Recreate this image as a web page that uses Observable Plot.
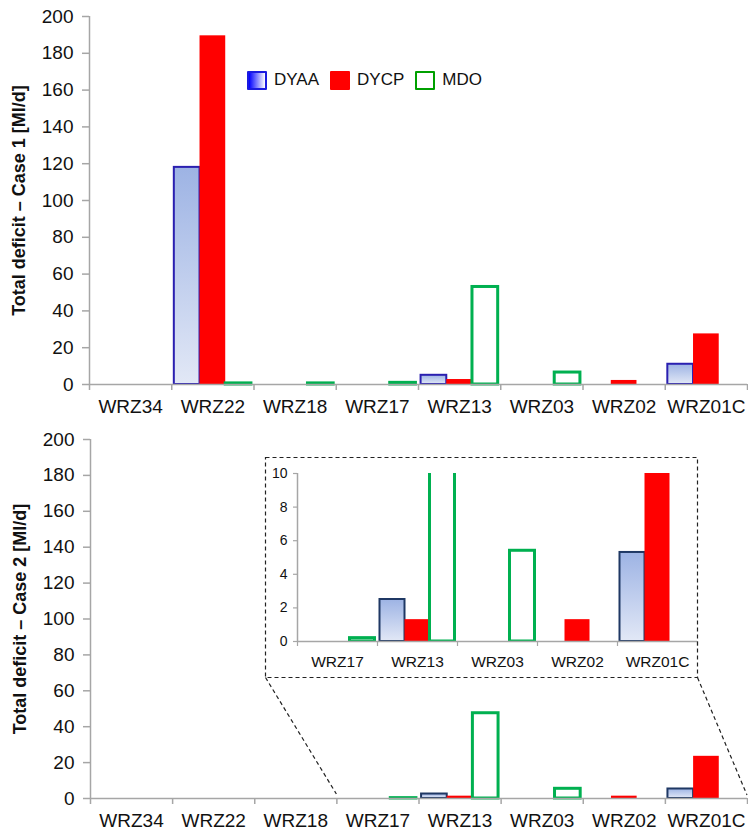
<!DOCTYPE html>
<html><head><meta charset="utf-8">
<script src="https://cdn.jsdelivr.net/npm/d3@7"></script>
<script src="https://cdn.jsdelivr.net/npm/@observablehq/plot@0.6"></script>
<style>
body{margin:0;background:#fff;font-family:"Liberation Sans",Arial,Helvetica,sans-serif;}
#wrap{position:relative;width:748px;height:834px;overflow:hidden;background:#fff}
.abs{position:absolute}
svg.mainplot text{font-size:19px !important}
svg.mainplot [aria-label="y-axis label"] text, svg.mainplot [aria-label="y-axis label"]{font-weight:bold !important;font-size:18px !important}
svg.insetplot text{font-size:14px !important}
svg.insetplot [aria-label="x-axis tick label"] text{font-size:15.5px !important}
#legend{position:absolute;left:247px;top:70px;display:flex;align-items:center;font-size:17px;color:#111}
#legend .sw{width:16px;height:15px;border:2px solid;border-radius:1px;margin-right:7px}
#legend .it{display:flex;align-items:center;margin-right:11px}
</style></head><body><div id="wrap"></div>
<script>
// ---- data ----
const categories = ["WRZ34","WRZ22","WRZ18","WRZ17","WRZ13","WRZ03","WRZ02","WRZ01C"];
const series = ["DYAA","DYCP","MDO"];
// Case 1
const case1DYAA = [0, 118, 0, 0, 5, 0, 0, 11];
const case1DYCP = [0, 189.5, 0, 0, 2.7, 0, 2.2, 27.5];
const case1MDO  = [0, 0.6, 0.6, 0.9, 53, 6.5, 0, 0];
// Case 2
const case2DYAA = [0, 0, 0, 0, 2.5, 0, 0, 5.3];
const case2DYCP = [0, 0, 0, 0, 1.3, 0, 1.3, 23.5];
const case2MDO  = [0, 0, 0, 0.2, 47.5, 5.4, 0, 0];
const yTicks = [0, 20, 40, 60, 80, 100, 120, 140, 160, 180, 200];
const insetCategories = ["WRZ17","WRZ13","WRZ03","WRZ02","WRZ01C"];
const insetYTicks = [0, 2, 4, 6, 8, 10];
const yLabel1 = "Total deficit \u2013 Case 1 [Ml/d]";
const yLabel2 = "Total deficit \u2013 Case 2 [Ml/d]";

// ---- helpers ----
const FONT = '"Liberation Sans", Arial, Helvetica, sans-serif';
const AXIS = "#a6a6a6";
const PAD = 0.1;
const STEP = 1 / (series.length + 2 * PAD);

function rows(cats, valuesBySeries) {
  const out = [];
  cats.forEach((c, i) => series.forEach((s, j) => {
    const v = valuesBySeries[j][i];
    if (v > 0) out.push({cat: c, i, s, j, v});
  }));
  return out;
}
const bx1 = d => d.i + STEP * (PAD + d.j);
const bx2 = d => d.i + STEP * (PAD + d.j + 1);

function gradientMark(id) {
  return () => {
    const defs = d3.create("svg:defs");
    const g = defs.append("linearGradient").attr("id", id)
      .attr("x1", 0).attr("y1", 0).attr("x2", 0).attr("y2", 1);
    g.append("stop").attr("offset", "0%").attr("stop-color", "#9db3e4");
    g.append("stop").attr("offset", "100%").attr("stop-color", "#e2e8f6");
    return defs.node();
  };
}

function barMarks(data, gradId, dyaaStroke, clip) {
  return [
    Plot.rect(data.filter(d => d.s === "DYAA"), {x1: bx1, x2: bx2, y1: 0, y2: "v", fill: `url(#${gradId})`, stroke: dyaaStroke, strokeWidth: 2, clip}),
    Plot.rect(data.filter(d => d.s === "DYCP"), {x1: bx1, x2: bx2, y1: 0, y2: "v", fill: "#ff0000", clip}),
    Plot.rect(data.filter(d => d.s === "MDO"), {x1: bx1, x2: bx2, y1: 0, y2: "v", fill: "white", stroke: "#00b050", strokeWidth: 3, clip})
  ];
}

function mainChart(values, label, gradId, dyaaStroke, opts) {
  const data = rows(categories, values);
  return Plot.plot({
    width: 748, height: opts.height, className: "mainplot",
    marginLeft: opts.marginLeft, marginRight: 1, marginTop: opts.marginTop, marginBottom: 36,
    style: {fontFamily: FONT, fontSize: "19px", color: "#111", background: "transparent", overflow: "visible"},
    x: {domain: [0, categories.length]},
    y: {domain: [0, 200]},
    marks: [
      gradientMark(gradId),
      ...barMarks(data, gradId, dyaaStroke, false),
      Plot.ruleX([0], {stroke: AXIS, strokeWidth: 1.5}),
      Plot.ruleY([0], {stroke: AXIS, strokeWidth: 1.5}),
      Plot.axisY({ticks: yTicks, tickSize: 7, tickPadding: 9, stroke: AXIS, strokeWidth: 1.5, fill: "#111",
        label, labelAnchor: "center", labelOffset: 77, labelArrow: false}),
      Plot.axisX({ticks: d3.range(categories.length + 1), tickFormat: () => "", tickSize: 6, stroke: AXIS, strokeWidth: 1.5, label: null}),
      Plot.axisX({ticks: categories.map((_, i) => i + 0.5), tickFormat: t => categories[Math.floor(t)], tickSize: 0, tickPadding: 15, fill: "#111", label: null})
    ]
  });
}

const wrap = document.getElementById("wrap");

// top chart
const topChart = mainChart([case1DYAA, case1DYCP, case1MDO], yLabel1, "gradA", "#2a1fb0",
  {height: 420, marginLeft: 89, marginTop: 16});
const topDiv = document.createElement("div");
topDiv.className = "abs"; topDiv.style.left = "0px"; topDiv.style.top = "0px";
topDiv.appendChild(topChart); wrap.appendChild(topDiv);

// bottom chart
const BOTTOM_TOP = 420;
const bottomChart = mainChart([case2DYAA, case2DYCP, case2MDO], yLabel2, "gradB", "#1f3864",
  {height: 414, marginLeft: 90, marginTop: 19});
const botDiv = document.createElement("div");
botDiv.className = "abs"; botDiv.style.left = "0px"; botDiv.style.top = BOTTOM_TOP + "px";
botDiv.appendChild(bottomChart); wrap.appendChild(botDiv);

// inset chart (zoom of case 2, WRZ17..WRZ01C)
const first = categories.indexOf(insetCategories[0]);
const insetVals = [case2DYAA, case2DYCP, case2MDO].map(a => a.slice(first));
const INSET = {left: 265, top: 457, width: 433, height: 221};
const insetChart = Plot.plot({
  width: INSET.width, height: INSET.height, className: "insetplot",
  marginLeft: 32, marginRight: 1, marginTop: 16, marginBottom: 37,
  style: {fontFamily: FONT, fontSize: "14px", color: "#111", background: "white", overflow: "visible"},
  x: {domain: [0, insetCategories.length]},
  y: {domain: [0, 10]},
  marks: [
    gradientMark("gradC"),
    ...barMarks(rows(insetCategories, insetVals), "gradC", "#1f3864", true),
    Plot.ruleX([0], {stroke: AXIS, strokeWidth: 1.5}),
    Plot.ruleY([0], {stroke: AXIS, strokeWidth: 1.5}),
    Plot.axisY({ticks: insetYTicks, tickSize: 4, tickPadding: 6, stroke: AXIS, strokeWidth: 1.2, fill: "#111", label: null}),
    Plot.axisX({ticks: d3.range(insetCategories.length + 1), tickFormat: () => "", tickSize: 5, stroke: AXIS, strokeWidth: 1.2, label: null}),
    Plot.axisX({ticks: insetCategories.map((_, i) => i + 0.5), tickFormat: t => insetCategories[Math.floor(t)], tickSize: 0, tickPadding: 14, fill: "#111", label: null})
  ]
});
const insDiv = document.createElement("div");
insDiv.className = "abs"; insDiv.style.left = INSET.left + "px"; insDiv.style.top = INSET.top + "px";
insDiv.appendChild(insetChart); wrap.appendChild(insDiv);

// overlay: dashed inset frame and connectors to the zoomed range
const xB = bottomChart.scale("x"), yB = bottomChart.scale("y");
const ov = d3.select(wrap).append("svg").attr("class", "abs")
  .attr("width", 748).attr("height", 834).style("left", "0px").style("top", "0px")
  .style("pointer-events", "none");
const dash = {stroke: "#222", "stroke-width": 1.2, "stroke-dasharray": "4,3", fill: "none"};
const frameRect = ov.append("rect").attr("x", INSET.left + 0.5).attr("y", INSET.top + 0.5)
  .attr("width", INSET.width - 1).attr("height", INSET.height - 1);
const l1 = ov.append("line").attr("x1", INSET.left + 0.5).attr("y1", INSET.top + INSET.height - 0.5)
  .attr("x2", xB.apply(first)).attr("y2", BOTTOM_TOP + yB.apply(0) - 4);
const l2 = ov.append("line").attr("x1", INSET.left + INSET.width - 0.5).attr("y1", INSET.top + INSET.height - 0.5)
  .attr("x2", xB.apply(categories.length)).attr("y2", BOTTOM_TOP + yB.apply(0) - 3);
[frameRect, l1, l2].forEach(s => Object.entries(dash).forEach(([k, v]) => s.attr(k, v)));

// legend (inside top chart)
const legendStyles = {
  DYAA: "background:linear-gradient(to right,#0000ff,#ffffff);border-color:#1a1ae0",
  DYCP: "background:#ff0000;border-color:#ff0000",
  MDO: "background:#ffffff;border-color:#00a000"
};
const legend = document.createElement("div");
legend.id = "legend";
legend.innerHTML = series.map(s => `<div class="it"><div class="sw" style="${legendStyles[s]}"></div><span>${s}</span></div>`).join("");
wrap.appendChild(legend);
</script>
</body></html>
